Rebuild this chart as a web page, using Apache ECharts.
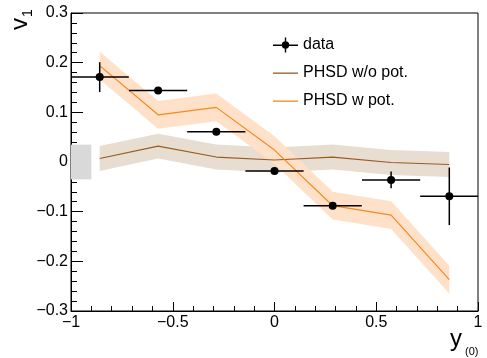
<!DOCTYPE html>
<html>
<head>
<meta charset="utf-8">
<script src="https://cdn.jsdelivr.net/npm/echarts@6/dist/echarts.min.js"></script>
<style>
html,body{margin:0;padding:0;background:#fff;}
#chart{width:487px;height:358px;}
</style>
</head>
<body>
<div id="chart"></div>
<script>
// ---- data ----
const binX = [-0.859, -0.572, -0.286, 0.0, 0.286, 0.573, 0.859];
const dataY = [0.171, 0.144, 0.061, -0.018, -0.088, -0.036, -0.069];
const dataXErr = [0.143, 0.143, 0.143, 0.143, 0.143, 0.143, 0.143];
const dataYErr = [0.030, 0.004, 0.003, 0.004, 0.004, 0.017, 0.058];
const noPotY = [0.007, 0.032, 0.010, 0.004, 0.010, -0.001, -0.005];
const noPotErr = [0.025, 0.025, 0.025, 0.025, 0.025, 0.025, 0.025];
const wPotY = [0.194, 0.095, 0.110, 0.024, -0.088, -0.107, -0.237];
const wPotErr = [0.028, 0.028, 0.028, 0.028, 0.028, 0.028, 0.028];
const sysBoxX = [-1.0, -0.9];
const sysBoxY = [-0.035, 0.035];
const xTicks = [-1, -0.5, 0, 0.5, 1];
const yTicks = [-0.3, -0.2, -0.1, 0, 0.1, 0.2, 0.3];

const FONT = 'Liberation Sans, Arial, Helvetica, sans-serif';
const fmt = v => {
  if (Math.abs(v) < 1e-9) return '0';
  const s = String(+Math.abs(v).toFixed(2));
  return (v < 0 ? '\u2212' : '') + s;
};

function bandSeries(name, ys, es, fill) {
  return {
    name: name + ' band',
    type: 'custom',
    coordinateSystem: 'cartesian2d',
    silent: true,
    z: 2,
    data: [[binX[0], ys[0]]],
    renderItem: function (params, api) {
      const pts = [];
      for (let i = 0; i < binX.length; i++) pts.push(api.coord([binX[i], ys[i] + es[i]]));
      for (let i = binX.length - 1; i >= 0; i--) pts.push(api.coord([binX[i], ys[i] - es[i]]));
      return { type: 'polygon', shape: { points: pts }, style: { fill: fill } };
    }
  };
}

const LINE_ICON = 'path://M0,0L0,0M0,7H25V8.3H0ZM25,15L25,15';

const chart = echarts.init(document.getElementById('chart'), null, { renderer: 'canvas' });
chart.setOption({
  animation: false,
  backgroundColor: '#ffffff',
  grid: { left: 71, right: 9, top: 13, bottom: 47, show: true, borderColor: '#000', borderWidth: 1, backgroundColor: 'transparent' },
  xAxis: {
    type: 'value', min: -1, max: 1, interval: 0.5,
    axisLine: { show: true, onZero: false, lineStyle: { color: '#000', width: 1 } },
    axisTick: { show: true, inside: true, length: 9, lineStyle: { color: '#000' } },
    minorTick: { show: true, splitNumber: 5, length: 5, lineStyle: { color: '#000' } },
    splitLine: { show: false },
    axisLabel: { color: '#000', fontFamily: FONT, fontSize: 16, margin: 4, formatter: fmt }
  },
  yAxis: {
    type: 'value', min: -0.3, max: 0.3, interval: 0.1,
    axisLine: { show: true, onZero: false, lineStyle: { color: '#000', width: 1 } },
    axisTick: { show: true, inside: true, length: 12, lineStyle: { color: '#000' } },
    minorTick: { show: true, splitNumber: 5, length: 6, lineStyle: { color: '#000' } },
    splitLine: { show: false },
    axisLabel: { color: '#000', fontFamily: FONT, fontSize: 16, margin: 3, formatter: fmt }
  },
  legend: {
    orient: 'vertical', left: 273, top: 37, padding: 0, itemWidth: 25, itemHeight: 15, itemGap: 12,
    textStyle: { color: '#000', fontFamily: FONT, fontSize: 16 },
    data: [
      { name: 'data', icon: 'path://M0,7H25V8.4H0Z M11.8,0H13.2V15H11.8Z M12.5,3.8A3.7,3.7 0 1,1 12.5,11.2A3.7,3.7 0 1,1 12.5,3.8Z', itemStyle: { color: '#000', opacity: 1 } },
      { name: 'PHSD w/o pot.', icon: LINE_ICON, itemStyle: { color: '#9a5b22' } },
      { name: 'PHSD w pot.', icon: LINE_ICON, itemStyle: { color: '#f5891f' } }
    ]
  },
  graphic: [
    { type: 'text', x: 20, y: 30, rotation: Math.PI / 2, style: { text: 'v', font: '24px ' + FONT, fill: '#000', textAlign: 'left', textVerticalAlign: 'middle' } },
    { type: 'text', x: 28, y: 17, rotation: Math.PI / 2, style: { text: '1', font: '14px ' + FONT, fill: '#000', textAlign: 'left', textVerticalAlign: 'middle' } },
    { type: 'text', x: 450, y: 339, style: { text: 'y', font: '24px ' + FONT, fill: '#000', textAlign: 'left', textVerticalAlign: 'middle' } },
    { type: 'text', x: 465, y: 352, style: { text: '(0)', font: '11px ' + FONT, fill: '#000', textAlign: 'left', textVerticalAlign: 'middle' } }
  ],
  series: [
    {
      name: 'sys', type: 'custom', coordinateSystem: 'cartesian2d', silent: true, z: 1,
      data: [[sysBoxX[0], sysBoxY[0]]],
      renderItem: function (params, api) {
        const p0 = api.coord([sysBoxX[0], sysBoxY[1]]);
        const p1 = api.coord([sysBoxX[1], sysBoxY[0]]);
        return { type: 'rect', shape: { x: p0[0], y: p0[1], width: p1[0] - p0[0], height: p1[1] - p0[1] }, style: { fill: '#d9d9d9' } };
      }
    },
    bandSeries('PHSD w/o pot.', noPotY, noPotErr, '#e7ddd1'),
    bandSeries('PHSD w pot.', wPotY, wPotErr, '#ffe1c9'),
    {
      name: 'PHSD w/o pot.', type: 'line', symbol: 'none', z: 3,
      data: binX.map((x, i) => [x, noPotY[i]]),
      lineStyle: { color: '#9a5b22', width: 1.2 }, itemStyle: { color: '#9a5b22' }
    },
    {
      name: 'PHSD w pot.', type: 'line', symbol: 'none', z: 3,
      data: binX.map((x, i) => [x, wPotY[i]]),
      lineStyle: { color: '#f5891f', width: 1.2 }, itemStyle: { color: '#f5891f' }
    },
    {
      name: 'data errors', type: 'custom', coordinateSystem: 'cartesian2d', silent: true, z: 4, clip: true,
      data: binX.map((x, i) => [x, dataY[i], dataXErr[i], dataYErr[i]]),
      renderItem: function (params, api) {
        const x = api.value(0), y = api.value(1), ex = api.value(2), ey = api.value(3);
        const l = api.coord([Math.max(-1, x - ex), y]);
        const r = api.coord([Math.min(1, x + ex), y]);
        const t = api.coord([x, y + ey]);
        const b = api.coord([x, y - ey]);
        const st = { stroke: '#000', lineWidth: 1.5 };
        return { type: 'group', children: [
          { type: 'line', shape: { x1: l[0], y1: l[1], x2: r[0], y2: r[1] }, style: st },
          { type: 'line', shape: { x1: t[0], y1: t[1], x2: b[0], y2: b[1] }, style: st }
        ] };
      }
    },
    {
      name: 'data', type: 'scatter', z: 5, symbol: 'circle', symbolSize: 8,
      itemStyle: { color: '#000', opacity: 1 },
      data: binX.map((x, i) => [x, dataY[i]])
    }
  ]
});
</script>
</body>
</html>
